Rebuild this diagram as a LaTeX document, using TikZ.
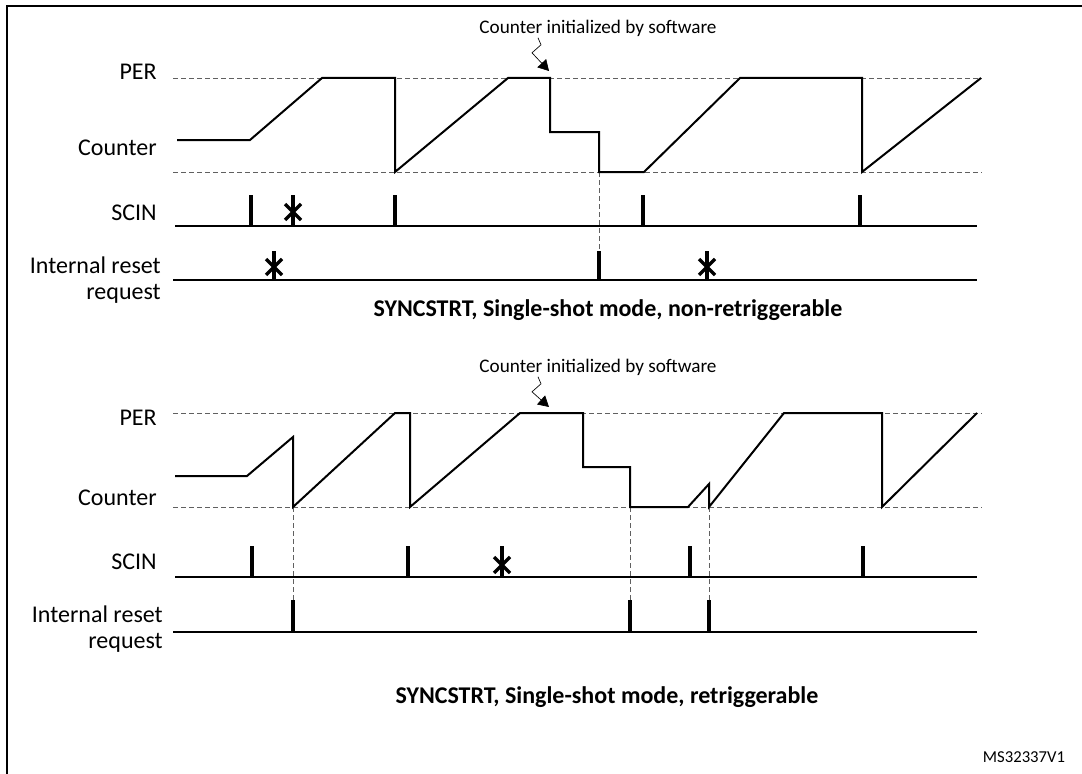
\documentclass[tikz,border=0pt]{standalone}
\usepackage{fontspec}
\setmainfont{Carlito}
\usetikzlibrary{arrows.meta}

\begin{document}
\begin{tikzpicture}[
    x=0.75pt, y=-0.75pt,
    lbl/.style={anchor=east, inner sep=0pt, align=right, font=\fontsize{18}{19}\selectfont},
    caption/.style={inner sep=0pt, font=\fontsize{18}{21}\selectfont\bfseries},
    note/.style={inner sep=1pt, font=\fontsize{14.4}{16}\selectfont},
    wave/.style={line width=1.5pt, line join=miter},
    base/.style={line width=1.5pt},
    tick/.style={line width=2.4pt},
    cross/.style={line width=2.6pt},
    guide/.style={gray!75!black, line width=0.7pt, dash pattern=on 3.75pt off 2.25pt},
    frame/.style={line width=1.6pt},
    zz/.style={-{Triangle[length=8pt, width=9pt]}, line width=0.5pt}
]
\useasboundingbox (0,0) rectangle (1082,774);
\draw[frame] (7,774) -- (7,6) -- (1082,6);

% non-retriggerable
\node[note] (initA) at (598,28) {Counter initialized by software};
\node[lbl] (perA) at (157,72) {PER};
\node[lbl] (cntA) at (157,148) {Counter};
\node[lbl] (scinA) at (157,213) {SCIN};
\node[lbl] (rstA) at (161,280) {Internal reset\\[1pt]request};
\node[caption] (capA) at (608,310) {SYNCSTRT, Single-shot mode, non-retriggerable};

\draw[guide] (173,78) -- (982,78);
\draw[guide] (173,172) -- (982,172);
\draw[guide] (599,172) -- (599,251);
\draw[wave] (177,140) -- (250,140) -- (322,78) -- (395,78) -- (395,172) -- (508,78) -- (550,78)
    -- (550,132) -- (599,132) -- (599,172) -- (644,172) -- (740,78) -- (862,78) -- (862,172) -- (981,78);

\draw[base] (175,226) -- (977,226);
\draw[tick] (251,195) -- (251,226);
\draw[tick] (293,195) -- (293,226);
\draw[cross] (285,204) -- (301,220) (285,220) -- (301,204);
\draw[tick] (395,195) -- (395,226);
\draw[tick] (643,195) -- (643,226);
\draw[tick] (860,195) -- (860,226);

\draw[base] (173,280) -- (977,280);
\draw[tick] (274,251) -- (274,280);
\draw[cross] (266,259) -- (282,275) (266,275) -- (282,259);
\draw[tick] (599,251) -- (599,280);
\draw[tick] (707,251) -- (707,280);
\draw[cross] (699,259) -- (715,275) (699,275) -- (715,259);

\coordinate (zA) at (538,0);
\coordinate (swA) at (549,71);
\draw[zz] (initA.south -| zA) -- ++(3,7) -- ++(-9,8) -- (swA);

% retriggerable
\node[note] (initB) at (598,367) {Counter initialized by software};
\node[lbl] (perB) at (157,418) {PER};
\node[lbl] (cntB) at (157,498) {Counter};
\node[lbl] (scinB) at (157,562) {SCIN};
\node[lbl] (rstB) at (163,629) {Internal reset\\[1pt]request};
\node[caption] (capB) at (607,697) {SYNCSTRT, Single-shot mode, retriggerable};

\draw[guide] (173,413) -- (982,413);
\draw[guide] (173,507) -- (982,507);
\draw[guide] (293,507) -- (293,600);
\draw[guide] (630,507) -- (630,600);
\draw[guide] (709,507) -- (709,600);
\draw[wave] (175,476) -- (247,476) -- (293,437) -- (293,507) -- (395,413) -- (410,413) -- (410,507)
    -- (520,413) -- (583,413) -- (583,467) -- (630,467) -- (630,507) -- (688,507) -- (709,484)
    -- (709,507) -- (784,413) -- (882,413) -- (882,507) -- (977,413);

\draw[base] (175,577) -- (977,577);
\draw[tick] (252,546) -- (252,577);
\draw[tick] (408,546) -- (408,577);
\draw[tick] (502,546) -- (502,577);
\draw[cross] (494,557) -- (510,573) (494,573) -- (510,557);
\draw[tick] (690,546) -- (690,577);
\draw[tick] (863,546) -- (863,577);

\draw[base] (173,632) -- (977,632);
\draw[tick] (293,600) -- (293,632);
\draw[tick] (630,600) -- (630,632);
\draw[tick] (709,600) -- (709,632);

\coordinate (zB) at (538,0);
\coordinate (swB) at (549,407);
\draw[zz] (initB.south -| zB) -- ++(3,7) -- ++(-9,8) -- (swB);

\node[note, font=\fontsize{12.5}{14}\selectfont] (ref) at (1024,757) {MS32337V1};
\end{tikzpicture}
\end{document}
